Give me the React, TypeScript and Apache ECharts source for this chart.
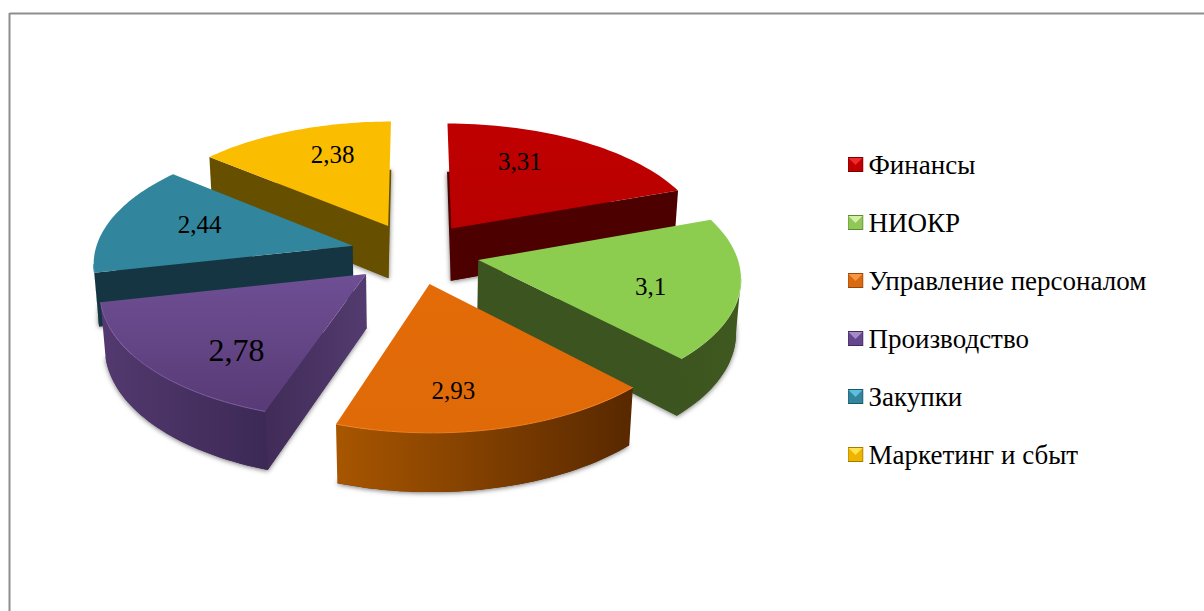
import React, { useEffect, useRef } from "react";
import * as echarts from "echarts";

const categories = ["Финансы", "НИОКР", "Управление персоналом", "Производство", "Закупки", "Маркетинг и сбыт"];
const values = [3.31, 3.1, 2.93, 2.78, 2.44, 2.38];

const topColors = [["#bf0000", "#b90000"], ["#8ccd50", "#8ccd50"], ["#e36b08", "#e06a08"], ["#6f4f94", "#583a76"], ["#31859c", "#31859c"], ["#fbbd00", "#fbbd00"]];
const rimColors = [["#4d0000", "#4d0000"], ["#3c5520", "#40591f"], ["#a85600", "#582800"], ["#53396f", "#3c2955"], ["#143541", "#143541"], ["#665000", "#665000"]];
const flatColors = [["#4d0000", "#4d0000"], ["#3c5520", "#3c5520"], ["#582800", "#582800"], ["#412c58", "#533b6f"], ["#143541", "#143541"], ["#665000", "#665000"]];
const edgeColors = ["#c80000", "#a4d873", "#ee8020", "#7d5ea1", "#4397ae", "#fcc820"];
const iconColors = [["#f02a2a", "#c00000", "#7a0000"], ["#d4f0a6", "#8fc857", "#5f8a35"], ["#f79646", "#d96a10", "#96480a"], ["#a58bc6", "#66468c", "#43295f"], ["#5cc0dc", "#31859c", "#1c5667"], ["#ffe24d", "#eeb400", "#a07c00"]];
const labelSizes = [25, 25, 25, 32, 25, 25];
const labelRadii = [0.672, 0.676, 0.75, 0.714, 0.637, 0.694];
const labelTurns = [-8.5, 5.5, 6.8, -9.4, 1.8, 4.5];

const FONT = '"Liberation Serif", "Times New Roman", serif';
const CX = 415, CY = 253, RX = 258, RY = 123, PERSPECTIVE = 0.12, EXPLODE = 0.25, DEPTH = 54, DEPTH_W = 0.015;

const total = values.reduce((a, b) => a + b, 0);
const starts: number[] = [];
values.reduce((acc, v) => { starts.push(acc); return acc + (v / total) * 360; }, 0);
const rad = (d: number) => (d * Math.PI) / 180;

function project(X: number, Y: number, low: boolean): number[] {
  const w = 1 - PERSPECTIVE * Y + (low ? DEPTH_W : 0);
  return [CX + (RX * X) / w, CY + (RY * Y + (low ? DEPTH : 0)) / w];
}

function hGrad(c: string[]) {
  return { type: "linear", x: 0, y: 0, x2: 1, y2: 0, colorStops: [{ offset: 0, color: c[0] }, { offset: 1, color: c[1] }] };
}
function vGrad(c: string[]) {
  return { type: "linear", x: 0, y: 0, x2: 0, y2: 1, colorStops: [{ offset: 0, color: c[0] }, { offset: 1, color: c[1] }] };
}

function renderSlice(index: number) {
  return (_p: any, api: any) => {
    const value = api.value(0);
    const a0 = api.value(1);
    const a1 = a0 + (value / total) * 360;
    const mid = rad((a0 + a1) / 2);
    const ex = EXPLODE * Math.sin(mid), ey = -EXPLODE * Math.cos(mid);
    const plane: number[][] = [];
    const steps = 40;
    for (let i = 0; i <= steps; i++) {
      const a = rad(a0 + ((a1 - a0) * i) / steps);
      plane.push([ex + Math.sin(a), ey - Math.cos(a)]);
    }
    const rimTop = plane.map((q) => project(q[0], q[1], false));
    const rimLow = plane.map((q) => project(q[0], q[1], true));
    const apexTop = project(ex, ey, false);
    const apexLow = project(ex, ey, true);
    const children: any[] = [];

    children.push({
      type: "polygon",
      shape: { points: [apexLow, ...rimLow] },
      style: { fill: flatColors[index][0], shadowBlur: 5, shadowColor: "rgba(0,0,0,0.55)", shadowOffsetX: 0, shadowOffsetY: 1 },
    });

    const flat = (a: number[], b: number[], aL: number[], bL: number[]) => {
      if (b[0] < a[0] - 8) {
        children.push({ type: "polygon", shape: { points: [a, b, bL, aL] }, style: { fill: hGrad(flatColors[index]) } });
      }
    };
    flat(apexTop, rimTop[0], apexLow, rimLow[0]);
    flat(rimTop[steps], apexTop, rimLow[steps], apexLow);

    const front: number[] = [];
    for (let i = 0; i < steps; i++) {
      if (rimTop[i + 1][0] < rimTop[i][0]) { front.push(i); }
    }
    if (front.length) {
      const idx = [...front, front[front.length - 1] + 1];
      const pts = [...idx.map((i) => rimTop[i]), ...idx.slice().reverse().map((i) => rimLow[i])];
      children.push({ type: "polygon", shape: { points: pts }, style: { fill: hGrad(rimColors[index]) } });
    }

    children.push({
      type: "polygon",
      shape: { points: [apexTop, ...rimTop] },
      style: { fill: vGrad(topColors[index]) },
    });
    if (front.length) {
      const idx = [...front, front[front.length - 1] + 1];
      children.push({
        type: "polyline",
        shape: { points: idx.map((i) => rimTop[i]) },
        style: { fill: "none", stroke: edgeColors[index], lineWidth: 1 },
      });
    }

    const la = rad((a0 + a1) / 2 + labelTurns[index]);
    const lp = project(ex + labelRadii[index] * Math.sin(la), ey - labelRadii[index] * Math.cos(la), false);
    children.push({
      type: "text",
      style: {
        x: lp[0], y: lp[1] - 1, text: String(value).replace(".", ","), align: "center", verticalAlign: "middle",
        fill: "#000000", font: `${labelSizes[index]}px ${FONT}`,
      },
    });
    return { type: "group", children };
  };
}

function iconUri(c: string[]) {
  const svg = `<svg xmlns="http://www.w3.org/2000/svg" width="16" height="15"><rect width="16" height="15" fill="${c[2]}"/><rect x="1" y="1" width="14" height="13" fill="${c[1]}"/><polygon points="1,1 15,1 8,8" fill="${c[0]}"/></svg>`;
  return "image://data:image/svg+xml;charset=utf-8," + encodeURIComponent(svg);
}

const paintOrder = values
  .map((v, i) => i)
  .sort((a, b) => {
    const m = (i: number) => rad(starts[i] + (values[i] / total) * 180);
    return -Math.cos(m(a)) - -Math.cos(m(b));
  });

export default function App() {
  const ref = useRef<HTMLDivElement>(null);
  useEffect(() => {
    document.body.style.margin = "0";
    document.body.style.overflow = "hidden";
    const chart = echarts.init(ref.current!, undefined, { renderer: "svg" });
    chart.setOption({
      animation: false,
      backgroundColor: "#ffffff",
      tooltip: { show: false },
      legend: {
        orient: "vertical",
        left: 842.5,
        top: 146,
        itemWidth: 16,
        itemHeight: 15,
        itemGap: 31,
        selectedMode: false,
        textStyle: { fontFamily: FONT, fontSize: 27, color: "#000000", padding: [0, 0, 0, 0] },
        data: categories.map((name, i) => ({ name, icon: iconUri(iconColors[i]), itemStyle: { color: topColors[i][0] } })),
      },
      graphic: [
        { type: "line", silent: true, shape: { x1: 9.5, y1: 13.5, x2: 1204, y2: 13.5 }, style: { stroke: "#8e8e8e", lineWidth: 2 } },
        { type: "line", silent: true, shape: { x1: 9.5, y1: 13, x2: 9.5, y2: 611 }, style: { stroke: "#8e8e8e", lineWidth: 2 } },
      ],
      series: paintOrder.map((i) => ({
        type: "custom",
        name: categories[i],
        coordinateSystem: "none",
        silent: true,
        itemStyle: { color: topColors[i][0] },
        data: [[values[i], starts[i]]],
        renderItem: renderSlice(i),
      })),
    });
    return () => chart.dispose();
  }, []);
  return <div ref={ref} style={{ position: "absolute", left: 0, top: 0, width: 1204, height: 611 }} />;
}
